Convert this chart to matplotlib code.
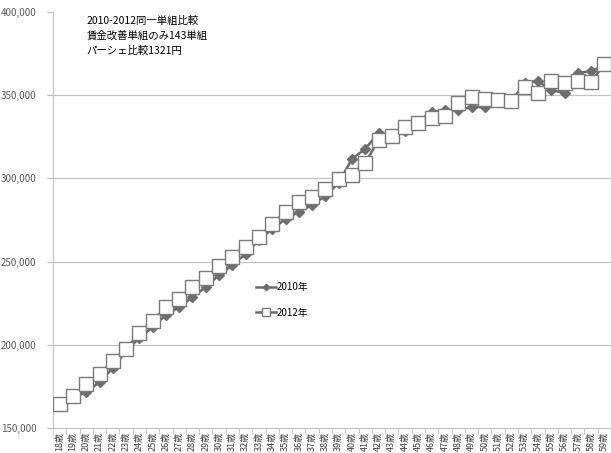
import matplotlib
matplotlib.use('Agg')
import matplotlib.pyplot as plt
import numpy as np

plt.rcParams['font.family'] = ['Noto Sans CJK JP', 'DejaVu Sans']

ages = [f'{a}歳' for a in range(18, 60)]

# 2010年 (diamonds)
y2010 = [163200, 168000, 171600, 177600, 186000, 196300, 204100, 210700, 217900, 222700,
         228700, 234700, 241900, 247900, 254600, 263000, 269600, 275600, 279800, 284000,
         289400, 297200, 311700, 317700, 327300, 324900, 328500, 334500, 339900, 341100,
         341100, 342900, 342900, 346500, 346500, 357300, 358500, 353100, 351300, 363300,
         364500, 368100]

# 2012年 (squares)
y2012 = [164400, 169200, 176400, 182400, 190300, 197500, 207100, 214300, 222700, 227500,
         234700, 240100, 247300, 252800, 258800, 264800, 272600, 279800, 285800, 288800,
         293600, 299600, 302000, 309200, 323100, 325500, 330900, 333300, 336300, 337500,
         345300, 348900, 347700, 347100, 346500, 354900, 351300, 358500, 357300, 358500,
         357900, 368700]

note = '2010-2012同一単組比較\n賃金改善単組のみ143単組\nパーシェ比較1321円'

fig = plt.figure(figsize=(6.11, 4.53), dpi=100)
ax = fig.add_axes([53 / 611, 1 - 428 / 453, 558 / 611, 416 / 453])

x = np.arange(len(ages))
ax.plot(x, y2010, color='#6b6b6b', lw=1.8, marker='D', ms=5.5,
        mfc='#6e6e6e', mec='#6e6e6e', label='2010年', zorder=3)
ax.plot(x, y2012, color='#6b6b6b', lw=1.8, marker='s', ms=9.5,
        mfc='white', mec='#7a7a7a', mew=1.0, label='2012年', zorder=4)

ax.set_xlim(-0.5, len(ages) - 0.5)
ax.set_ylim(150000, 400000)
ax.set_yticks(range(150000, 400001, 50000))
ax.set_yticklabels([f'{v:,}' for v in range(150000, 400001, 50000)],
                   fontsize=7, color='#595959')
ax.set_xticks(x)
ax.set_xticklabels(ages, rotation=90, fontsize=6.5, color='#404040')
ax.set_xticks(np.arange(-0.5, len(ages), 1), minor=True)
ax.tick_params(axis='x', which='major', length=0, pad=3)
ax.tick_params(axis='x', which='minor', length=4, color='#bfbfbf')
ax.tick_params(axis='y', length=4, color='#bfbfbf', pad=8)

ax.grid(axis='y', color='#c0c0c0', lw=0.9)
ax.yaxis.get_gridlines()[-1].set_visible(False)
ax.yaxis.get_gridlines()[0].set_visible(False)
ax.set_axisbelow(True)
for s in ['top', 'right']:
    ax.spines[s].set_visible(False)
for s in ['left', 'bottom']:
    ax.spines[s].set_color('#bfbfbf')

ax.text(0.06, 0.99, note, transform=ax.transAxes, fontsize=7.5,
        va='top', ha='left', linespacing=1.55)

ax.legend(loc='upper left', bbox_to_anchor=(0.349, 0.372), frameon=False,
          fontsize=7, labelspacing=1.6, handlelength=2.0, handletextpad=0.1,
          markerscale=0.6)

fig.savefig('out.png', dpi=100)
